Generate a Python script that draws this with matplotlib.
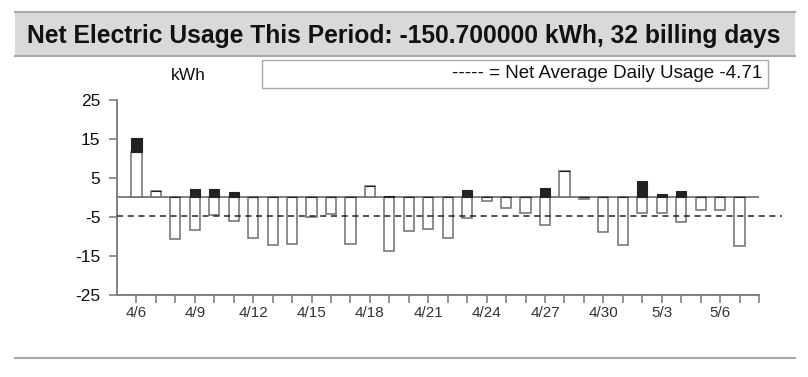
"""Net electric usage per billing day, bar chart."""

import matplotlib.pyplot as plt
from matplotlib.patches import Rectangle

plt.rcParams["font.family"] = ["Liberation Sans", "DejaVu Sans"]

# daily net usage (white bars) and delivered part shown in black
day_labels = ["4/6", "4/9", "4/12", "4/15", "4/18", "4/21", "4/24", "4/27", "4/30", "5/3", "5/6"]
net_kwh = [
    11.6, 1.7, -10.6, -8.3, -4.4, -6.1, -10.4, -12.3, -12.0, -5.1, -4.3,
    -11.8, 3.0, -13.8, -8.5, -8.1, -10.4, -5.3, -0.85, -2.7, -4.0, -7.0,
    6.85, -0.3, -8.9, -12.1, -4.0, -4.0, -6.4, -3.3, -3.3, -12.4,
]
black_kwh = [
    3.6, 0.0, 0.0, 2.15, 2.3, 1.46, 0.0, 0.0, 0.0, 0.0, 0.0,
    0.0, 0.0, 0.4, 0.0, 0.0, 0.0, 1.8, 0.0, 0.0, 0.0, 2.4,
    0.0, 0.0, 0.0, 0.0, 4.3, 0.8, 1.55, 0.0, 0.0, 0.0,
]
avg_daily = -4.71
total_kwh = -150.7
y_ticks = [25, 15, 5, -5, -15, -25]

n_days = len(net_kwh)
days = list(range(n_days))

fig = plt.figure(figsize=(8.08, 3.77), dpi=100)
W, H = 808, 377

# title band
fig.patches.append(Rectangle((15 / W, 1 - 56 / H), 780 / W, 44 / H,
                             transform=fig.transFigure, facecolor="#d9d9d9",
                             edgecolor="none", zorder=0))
for yy in (12, 56):
    fig.add_artist(plt.Line2D([15 / W, 795 / W], [1 - yy / H] * 2,
                              color="#a8a8a8", linewidth=1.5))
fig.text(27 / W, 1 - 36 / H,
         f"Net Electric Usage This Period: {total_kwh:f} kWh, {n_days} billing days",
         fontsize=17.7, fontweight="bold", va="center", ha="left", color="#111111")
fig.add_artist(plt.Line2D([15 / W, 795 / W], [1 - 358 / H] * 2,
                          color="#a8a8a8", linewidth=1.5))

# legend box
fig.patches.append(Rectangle((262 / W, 1 - 88 / H), 506 / W, 28 / H,
                             transform=fig.transFigure, facecolor="white",
                             edgecolor="#aaaaaa", linewidth=1.0))
fig.text(762 / W, 1 - 74 / H, f"----- = Net Average Daily Usage {avg_daily:.2f}",
         fontsize=13.5, ha="right", va="center", color="#111111")
fig.text(188 / W, 1 - 75 / H, "kWh", fontsize=12.5, ha="center", va="center",
         color="#111111")

ax = fig.add_axes([117 / W, 1 - 295 / H, (759 - 117) / W, (295 - 100) / H])

black_bottom = [max(v, 0.0) for v in net_kwh]
ax.bar(days, black_kwh, bottom=black_bottom, width=0.52, color="#222222",
       edgecolor="#222222", linewidth=0.8, zorder=3)
ax.bar(days, net_kwh, width=0.52, color="white", edgecolor="#6e6e6e",
       linewidth=1.1, zorder=2)

ax.axhline(0, color="#808080", linewidth=1.4, zorder=1)
ax.plot([-1, 33.2], [avg_daily, avg_daily], color="#222222", linewidth=1.1,
        linestyle=(0, (4, 3)), clip_on=False, zorder=4)

ax.set_xlim(-1, 32)
ax.set_ylim(-25, 25)
ax.set_yticks(y_ticks)
ax.set_yticklabels([str(t) for t in y_ticks], fontsize=12.5, color="#111111")
ax.set_xticks(range(0, 33))
ax.set_xticklabels([day_labels[i // 3] if i % 3 == 0 and i // 3 < len(day_labels) else ""
                    for i in range(0, 33)], fontsize=11, color="#333333")

for side in ("top", "right"):
    ax.spines[side].set_visible(False)
for side in ("left", "bottom"):
    ax.spines[side].set_color("#808080")
    ax.spines[side].set_linewidth(1.4)
ax.tick_params(axis="both", color="#808080", width=1.2, length=6)
ax.tick_params(axis="y", pad=6)
ax.tick_params(axis="x", pad=2)

fig.savefig("out.png", dpi=100)
